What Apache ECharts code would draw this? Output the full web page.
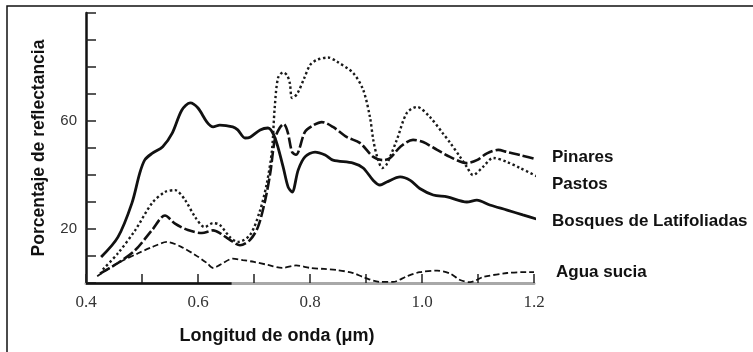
<!DOCTYPE html>
<html>
<head>
<meta charset="utf-8">
<script src="https://cdn.jsdelivr.net/npm/echarts@6/dist/echarts.min.js"></script>
<style>
html,body{margin:0;padding:0;background:#fff;}
#chart{width:753px;height:352px;}
</style>
</head>
<body>
<div id="chart"></div>
<script>
// ---- Data ----
const seriesNames = ['Pinares', 'Pastos', 'Bosques de Latifoliadas', 'Agua sucia'];

const bosquesX = [0.427,0.457,0.482,0.496,0.505,0.518,0.537,0.554,0.571,0.586,0.600,0.616,0.627,0.639,0.662,0.671,0.684,0.693,0.711,0.725,0.7375,0.752,0.761,0.768,0.779,0.791,0.809,0.827,0.841,0.877,0.895,0.913,0.925,0.937,0.961,0.979,0.996,1.020,1.045,1.080,1.098,1.121,1.152,1.180,1.211];
const bosquesY = [9.6,17,29.6,40.7,45.6,48,50.5,55.5,64,66.7,64.8,59.6,57.8,58.5,57.8,56.7,53.7,54,56.7,57.4,53.7,43,35.5,33.7,41.9,46.7,48.5,47.4,45.5,44.4,42.6,38,36.3,37.4,39.3,38,35,32.6,31.9,30,30.7,28.9,27,25.2,23.3];

const pinaresX = [0.425,0.457,0.488,0.518,0.541,0.559,0.582,0.607,0.627,0.639,0.657,0.675,0.693,0.707,0.720,0.729,0.7375,0.746,0.753,0.760,0.768,0.775,0.791,0.805,0.821,0.841,0.866,0.889,0.913,0.930,0.943,0.961,0.984,1.002,1.027,1.050,1.080,1.098,1.116,1.136,1.152,1.175,1.211];
const pinaresY = [3.5,7.4,12.2,19.6,25,22,19.6,18.5,19.5,18.5,16,14,16,20.7,30.7,40.7,53.5,57.5,58.9,56,48.5,47.5,56,58.3,59.6,57.8,54,51.9,46.7,45.5,46.3,50.4,53,52.2,49.3,46.7,44.4,45.5,48,49.3,48.5,47.4,45.5];

const pastosX = [0.430,0.457,0.488,0.518,0.541,0.559,0.577,0.595,0.612,0.627,0.639,0.657,0.671,0.693,0.711,0.723,0.732,0.737,0.743,0.752,0.759,0.764,0.768,0.777,0.790,0.800,0.812,0.832,0.848,0.877,0.895,0.907,0.913,0.920,0.929,0.937,0.955,0.973,0.991,1.014,1.037,1.050,1.068,1.080,1.091,1.109,1.127,1.152,1.175,1.211];
const pastosY = [5,11,19.6,29.6,33.7,34.4,30.7,24.4,20.7,22.2,21.5,17,15.2,17.8,27,37,49,65,76,78,77,74,68.5,70,76,80.7,82.6,83.5,82,77.8,71.5,61.5,53,46.7,42.6,44,53,63,65.2,61.5,55.5,52,46.7,43,40,43,46.3,44.8,42.6,38.9];

const aguaX = [0.420,0.457,0.493,0.518,0.545,0.571,0.595,0.616,0.627,0.639,0.662,0.680,0.700,0.725,0.750,0.775,0.800,0.825,0.848,0.877,0.895,0.925,0.948,0.973,0.996,1.027,1.050,1.068,1.086,1.109,1.152,1.180,1.200];
const aguaY = [2.5,7.4,11,13.3,15.2,13.3,10.4,7.4,5.6,6.7,9,8.5,7.8,6.7,5.6,6.5,5.6,5.2,4.8,3.7,2.2,0.4,0.4,2.5,4,4.6,3.5,1.1,0.3,2.2,3.7,4,4];

// axis ranges / ticks
const xMin = 0.4, xMax = 1.2, xStep = 0.1;
const yMin = 0, yMax = 100, yStep = 10;
const yLabelsShown = [20, 60];
const darkAxisSpan = [0.4, 0.66];

const zip = (xs, ys) => xs.map((x, i) => [x, ys[i]]);

const labelFont = { fontFamily: 'Liberation Sans', fontWeight: 'bold', fontSize: 17, color: '#111' };

function lineSeries(name, xs, ys, style, endOffset, extra) {
  return Object.assign({
    name: name,
    type: 'line',
    data: zip(xs, ys),
    showSymbol: false,
    symbol: 'none',
    smooth: 0.3,
    clip: false,
    lineStyle: style,
    endLabel: Object.assign({
      show: true,
      formatter: name,
      distance: endOffset[0],
      offset: [0, endOffset[1]]
    }, labelFont),
    emphasis: { disabled: true },
    z: 3
  }, extra || {});
}

const chart = echarts.init(document.getElementById('chart'), null, { renderer: 'canvas' });
chart.setOption({
  animation: false,
  backgroundColor: '#fff',
  grid: { left: 86, right: 219, top: 13, bottom: 69, containLabel: false },
  graphic: [{
    type: 'rect',
    shape: { x: 7, y: 6, width: 900, height: 500 },
    style: { fill: 'none', stroke: '#111', lineWidth: 1.5 },
    silent: true, z: 0
  }],
  xAxis: {
    type: 'value',
    min: xMin, max: xMax, interval: xStep,
    name: 'Longitud de onda (\u03bcm)',
    nameLocation: 'middle',
    nameGap: 44,
    nameTextStyle: { fontFamily: 'Liberation Sans', fontWeight: 'bold', fontSize: 18, color: '#111', padding: [0, 66, 0, 0] },
    axisLine: { show: true, onZero: false, lineStyle: { color: '#a8a8a8', width: 3 } },
    axisTick: { show: true, inside: true, length: 9, lineStyle: { color: '#222', width: 1.5 } },
    axisLabel: {
      margin: 11,
      fontFamily: 'Liberation Serif', fontSize: 17, color: '#333',
      formatter: v => (Math.round(v * 10) % 2 === 0 ? v.toFixed(1) : '')
    },
    splitLine: { show: false }
  },
  yAxis: {
    type: 'value',
    min: yMin, max: yMax, interval: yStep,
    name: 'Porcentaje de reflectancia',
    nameLocation: 'middle',
    nameGap: 38,
    nameRotate: 90,
    nameTextStyle: { fontFamily: 'Liberation Sans', fontWeight: 'bold', fontSize: 17.5, color: '#111' },
    axisLine: { show: true, lineStyle: { color: '#111', width: 2.5 } },
    axisTick: { show: true, inside: true, length: 10, lineStyle: { color: '#222', width: 1.5 } },
    axisLabel: {
      margin: 9,
      fontFamily: 'Liberation Sans', fontSize: 15, color: '#333',
      formatter: v => (yLabelsShown.indexOf(Math.round(v)) >= 0 ? String(Math.round(v)) : '')
    },
    splitLine: { show: false }
  },
  series: [
    lineSeries(seriesNames[0], pinaresX, pinaresY, { color: '#111', width: 2.6, type: [11, 3] }, [16, -2]),
    lineSeries(seriesNames[1], pastosX, pastosY, { color: '#1a1a1a', width: 2.4, type: [2.4, 2.6] }, [16, 8]),
    lineSeries(seriesNames[2], bosquesX, bosquesY, { color: '#111', width: 2.8, type: 'solid' }, [16, 2]),
    lineSeries(seriesNames[3], aguaX, aguaY, { color: '#111', width: 1.8, type: [6, 3] }, [22, 0], {
      markLine: {
        silent: true, symbol: 'none', animation: false,
        label: { show: false },
        lineStyle: { color: '#111', width: 2.5, type: 'solid' },
        data: [[{ coord: [darkAxisSpan[0], 0] }, { coord: [darkAxisSpan[1], 0] }]]
      }
    })
  ]
});
</script>
</body>
</html>
